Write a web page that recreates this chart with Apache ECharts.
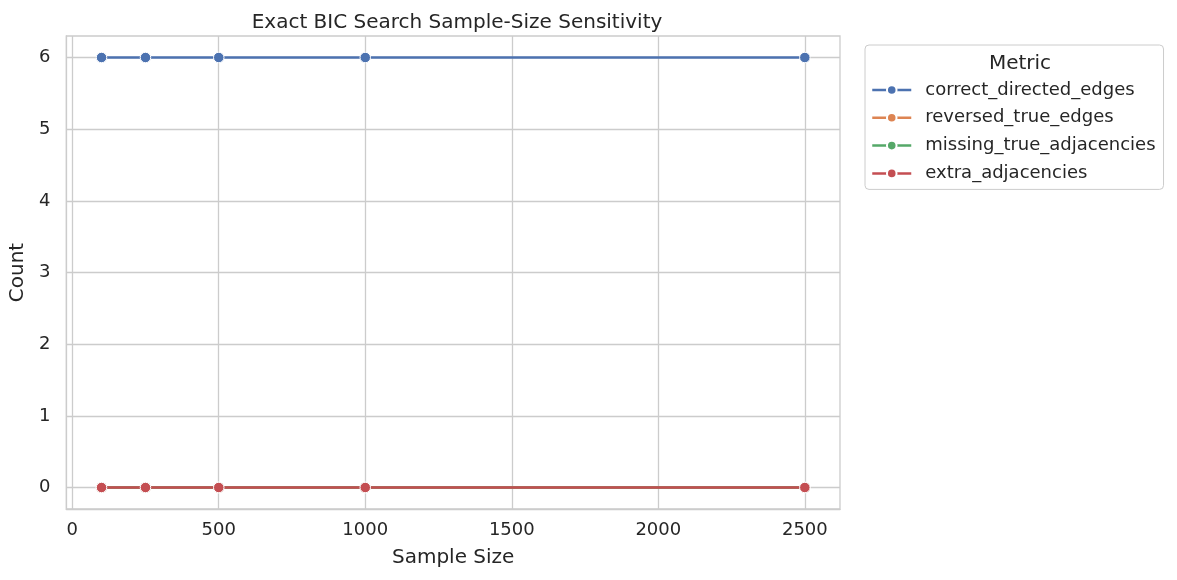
<!DOCTYPE html>
<html>
<head>
<meta charset="utf-8">
<script src="https://cdn.jsdelivr.net/npm/echarts@6/dist/echarts.min.js"></script>
<style>
  html, body { margin: 0; padding: 0; background: #fff; }
  #chart { width: 1177px; height: 580px; }
</style>
</head>
<body>
<div id="chart"></div>
<script>
// data
const sampleSizes = [100, 250, 500, 1000, 2500];
const metricNames = ['correct_directed_edges', 'reversed_true_edges', 'missing_true_adjacencies', 'extra_adjacencies'];
const correctDirected = [6, 6, 6, 6, 6];
const reversedTrue = [0, 0, 0, 0, 0];
const missingTrue = [0, 0, 0, 0, 0];
const extraAdj = [0, 0, 0, 0, 0];
const xTicks = [0, 500, 1000, 1500, 2000, 2500];
const yTicks = [0, 1, 2, 3, 4, 5, 6];

const palette = ['#4c72b0', '#dd8452', '#55a868', '#c44e52'];
const allValues = [correctDirected, reversedTrue, missingTrue, extraAdj];
const font = 'DejaVu Sans';

let myChart = echarts.init(document.getElementById('chart'));

let series = metricNames.map(function (name, i) {
    return {
        name: name,
        type: 'line',
        data: sampleSizes.map(function (s, j) { return [s, allValues[i][j]]; }),
        symbol: 'circle',
        symbolSize: 10.5,
        lineStyle: { width: 2.5, color: palette[i] },
        itemStyle: { color: palette[i], borderColor: '#fff', borderWidth: 1 },
        z: 3 + i,
        animation: false
    };
});

let option = {
    backgroundColor: '#fff',
    color: palette,
    textStyle: { fontFamily: font },
    title: [
        {
            text: 'Exact BIC Search Sample-Size Sensitivity',
            left: 452, top: 8, textAlign: 'center',
            textStyle: { fontFamily: font, fontSize: 20, fontWeight: 'normal', color: '#262626' }
        },
        {
            text: 'Metric',
            left: 1015, top: 49, textAlign: 'center',
            textStyle: { fontFamily: font, fontSize: 20, fontWeight: 'normal', color: '#262626' }
        }
    ],
    grid: {
        left: 65, right: 337, top: 36, bottom: 71, containLabel: false,
        show: true, borderColor: '#cccccc', borderWidth: 1.3
    },
    legend: {
        orient: 'vertical',
        left: 865, top: 45,
        padding: [36, 8, 7, 6],
        itemGap: 9.8,
        itemWidth: 39, itemHeight: 12,
        borderColor: '#cccccc', borderWidth: 1, borderRadius: 4,
        backgroundColor: '#fff',
        lineStyle: { width: 2.5 },
        textStyle: { fontFamily: font, fontSize: 18, lineHeight: 18, color: '#262626', padding: [0, 0, 0, 9] },
        data: metricNames
    },
    xAxis: {
        type: 'value',
        min: -20, max: 2620,
        name: 'Sample Size', nameLocation: 'middle', nameGap: 39,
        nameTextStyle: { fontFamily: font, fontSize: 20, color: '#262626' },
        axisLine: { show: true, onZero: false, lineStyle: { color: '#cccccc', width: 1.3 } },
        axisTick: { show: false, customValues: xTicks },
        axisLabel: {
            customValues: xTicks, fontFamily: font, fontSize: 18, color: '#262626', margin: 12,
            formatter: function (v) { return String(v); }
        },
        splitLine: { show: true, lineStyle: { color: '#cccccc', width: 1.3 } }
    },
    yAxis: {
        type: 'value',
        min: -0.3, max: 6.3,
        name: 'Count', nameLocation: 'middle', nameGap: 35,
        nameTextStyle: { fontFamily: font, fontSize: 20, color: '#262626' },
        axisLine: { show: true, onZero: false, lineStyle: { color: '#cccccc', width: 1.3 } },
        axisTick: { show: false, customValues: yTicks },
        axisLabel: {
            customValues: yTicks, fontFamily: font, fontSize: 18, color: '#262626', margin: 16,
            formatter: function (v) { return String(v); }
        },
        splitLine: { show: true, lineStyle: { color: '#cccccc', width: 1.3 } }
    },
    series: series
};

myChart.setOption(option);
</script>
</body>
</html>
